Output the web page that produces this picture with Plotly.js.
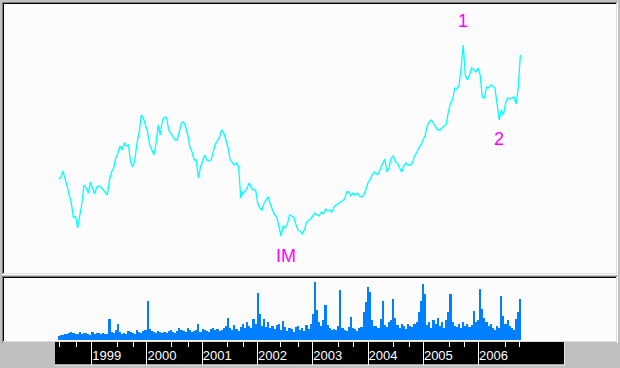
<!DOCTYPE html>
<html>
<head>
<meta charset="utf-8">
<script src="https://cdn.plot.ly/plotly-3.0.1.min.js"></script>
<style>html,body{margin:0;padding:0;background:#c0c0c0;}#chart{width:620px;height:368px;}</style>
</head>
<body>
<div id="chart"></div>
<script>
// Bi-weekly series, first point on 1998-05-27
const startDate = [1998, 4, 27];
const stepDays = 14;

const price = [
121,122,129,122,114,105,97,82,84,72,
85,97,115,112,107,118,112,106,113,114,
113,110,107,105,120,128,132,142,147,154,
150,157,154,155,138,133,140,157,167,185,
182,175,168,155,150,145,157,175,165,180,
183,182,170,167,163,160,160,170,177,178,
173,165,153,148,140,140,122,133,140,145,
140,139,140,148,156,159,163,170,167,160,
152,140,137,135,137,133,102,108,108,113,
117,112,110,110,97,92,90,97,100,103,
95,90,85,83,74,64,74,72,76,85,
84,83,76,70,69,66,70,77,80,81,
84,87,85,84,88,86,91,89,90,88,
93,95,97,98,99,101,108,108,104,107,
105,107,104,103,105,110,117,120,125,128,
126,126,132,137,141,128,132,142,144,138,
137,132,128,134,137,135,135,137,144,147,
152,155,160,164,174,178,180,176,173,170,
170,172,174,176,188,197,200,212,211,214,
232,255,225,220,225,232,230,228,232,225,
203,202,213,212,215,214,212,195,180,190,
185,197,202,201,202,203,196,212,245
];

const volume = [
4,5,5,6,6,7,8,7,6,6,
8,6,7,7,6,5,8,6,7,7,
6,7,6,6,21,8,7,10,16,8,
6,7,6,9,8,7,6,10,8,7,
9,10,39,11,9,8,7,9,8,7,
8,7,9,10,8,7,9,12,10,9,
8,12,10,8,9,10,16,8,11,10,
9,8,11,12,10,11,9,10,12,14,
22,12,10,15,11,9,13,16,12,18,
14,12,21,16,47,26,14,21,13,18,
12,14,11,15,16,10,19,13,9,12,
11,8,13,14,10,12,9,15,11,16,
26,58,30,18,14,20,35,15,12,10,
11,10,14,50,12,10,9,13,23,12,
11,9,12,13,28,38,53,48,20,14,
14,12,21,39,15,13,18,20,41,22,
15,12,16,14,11,16,14,13,16,18,
28,39,56,46,15,18,12,20,16,22,
14,18,12,20,28,46,18,14,13,16,
12,18,14,16,13,15,29,18,20,51,
31,22,18,14,16,12,10,14,12,44,
24,16,20,14,12,10,21,28,41
];

const yearTicks = ['1999-01-01','2000-01-01','2001-01-01','2002-01-01','2003-01-01','2004-01-01','2005-01-01','2006-01-01'];
const yearLabels = ['1999','2000','2001','2002','2003','2004','2005','2006'];
const minorTicks = ['1998-06-05','1998-09-24','1999-06-18','1999-10-06','2000-06-14','2000-10-01','2001-06-13','2001-09-30',
  '2002-06-01','2002-09-29','2003-06-20','2003-09-30','2004-06-20','2004-09-30','2005-06-25','2005-09-30','2006-06-28','2006-10-01'];

const waveLabels = ['1', '2', 'IM'];
const waveIndex = [191, 208, 105];

const DAY = 864e5;
const t0 = Date.UTC(startDate[0], startDate[1], startDate[2]);
const dates = price.map((_, i) => new Date(t0 + i * stepDays * DAY).toISOString().slice(0, 10));

// pixel -> paper helpers for frame decoration
const L = 4, R = 4, T = 4, B = 27, W = 620, H = 368;
const PW = W - L - R, PH = H - T - B;
const X = px => (px - L) / PW;
const Y = py => (H - B - py) / PH;

function hline(py, x0, x1, color) {
  return {type: 'line', xref: 'paper', yref: 'paper', x0: X(x0), x1: X(x1), y0: Y(py), y1: Y(py), line: {color: color, width: 1}, layer: 'below'};
}
function vline(px, y0, y1, color) {
  return {type: 'line', xref: 'paper', yref: 'paper', x0: X(px), x1: X(px), y0: Y(y0), y1: Y(y1), line: {color: color, width: 1}, layer: 'below'};
}

const shapes = [
  // top panel sunken frame
  hline(2.5, 2, 618, '#808080'), hline(3.5, 3, 617, '#000000'),
  vline(2.5, 2, 275, '#808080'), vline(3.5, 3, 274, '#000000'),
  hline(273.5, 3, 617, '#dcdcdc'), hline(274.5, 2, 618, '#ffffff'),
  vline(616.5, 3, 274, '#dcdcdc'), vline(617.5, 2, 275, '#ffffff'),
  // lower panel sunken frame
  hline(276.5, 2, 618, '#808080'), hline(277.5, 3, 617, '#000000'),
  vline(2.5, 276, 343, '#808080'), vline(3.5, 277, 342, '#000000'),
  hline(341.5, 3, 617, '#dcdcdc'),
  vline(616.5, 277, 342, '#dcdcdc'), vline(617.5, 276, 343, '#ffffff'),
  // black time strip
  {type: 'rect', xref: 'paper', yref: 'paper', x0: X(55), x1: X(564), y0: Y(364.5), y1: Y(342), fillcolor: '#000000', line: {width: 0}, layer: 'below'},
  hline(365, 55, 565, '#e8e8e8'), vline(564.5, 342, 365, '#e8e8e8')
];

const annotations = waveLabels.map((txt, k) => {
  const i = waveIndex[k];
  const shifts = {'1': [0, 24], '2': [0, -19], 'IM': [5, -20]}[txt];
  return {
    x: dates[i], y: price[i], xref: 'x', yref: 'y', text: txt, showarrow: false,
    xshift: shifts[0], yshift: shifts[1], xanchor: 'center', yanchor: 'middle',
    font: {family: 'Liberation Sans, Arial, sans-serif', size: 18, color: '#ff00ff'}
  };
});

const traces = [
  {type: 'scatter', mode: 'lines', x: dates, y: price, xaxis: 'x', yaxis: 'y',
   line: {color: '#00ffff', width: 1.3}, hoverinfo: 'skip'},
  {type: 'bar', x: dates, y: volume, xaxis: 'x', yaxis: 'y2',
   width: stepDays * DAY, marker: {color: '#0080ff', line: {width: 0}}, hoverinfo: 'skip'}
];

const layout = {
  width: W, height: H,
  margin: {l: L, r: R, t: T, b: B, pad: 0},
  paper_bgcolor: '#c0c0c0',
  plot_bgcolor: '#fcfcfc',
  showlegend: false,
  bargap: 0,
  xaxis: {
    type: 'date', range: ['1997-05-31', '2008-06-27'], anchor: 'y2', domain: [0, 1],
    showgrid: false, zeroline: false, showline: false,
    tickmode: 'array', tickvals: yearTicks, ticktext: yearLabels,
    ticks: 'outside', ticklen: 23, tickwidth: 1, tickcolor: '#ffffff',
    ticklabelposition: 'outside right', ticklabelstandoff: 2,
    tickfont: {family: 'Liberation Sans, Arial, sans-serif', size: 13, color: '#ffffff'},
    minor: {tickmode: 'array', tickvals: minorTicks, ticks: 'outside', ticklen: 5, tickwidth: 1, tickcolor: '#ffffff', showgrid: false},
    fixedrange: true
  },
  yaxis: {domain: [Y(273), 1], range: [27, 296], visible: false, showgrid: false, zeroline: false, fixedrange: true},
  yaxis2: {domain: [0, Y(278)], range: [-1, 62], visible: false, showgrid: false, zeroline: false, fixedrange: true},
  shapes: shapes,
  annotations: annotations
};

Plotly.newPlot('chart', traces, layout, {displayModeBar: false, staticPlot: true});
</script>
</body>
</html>
